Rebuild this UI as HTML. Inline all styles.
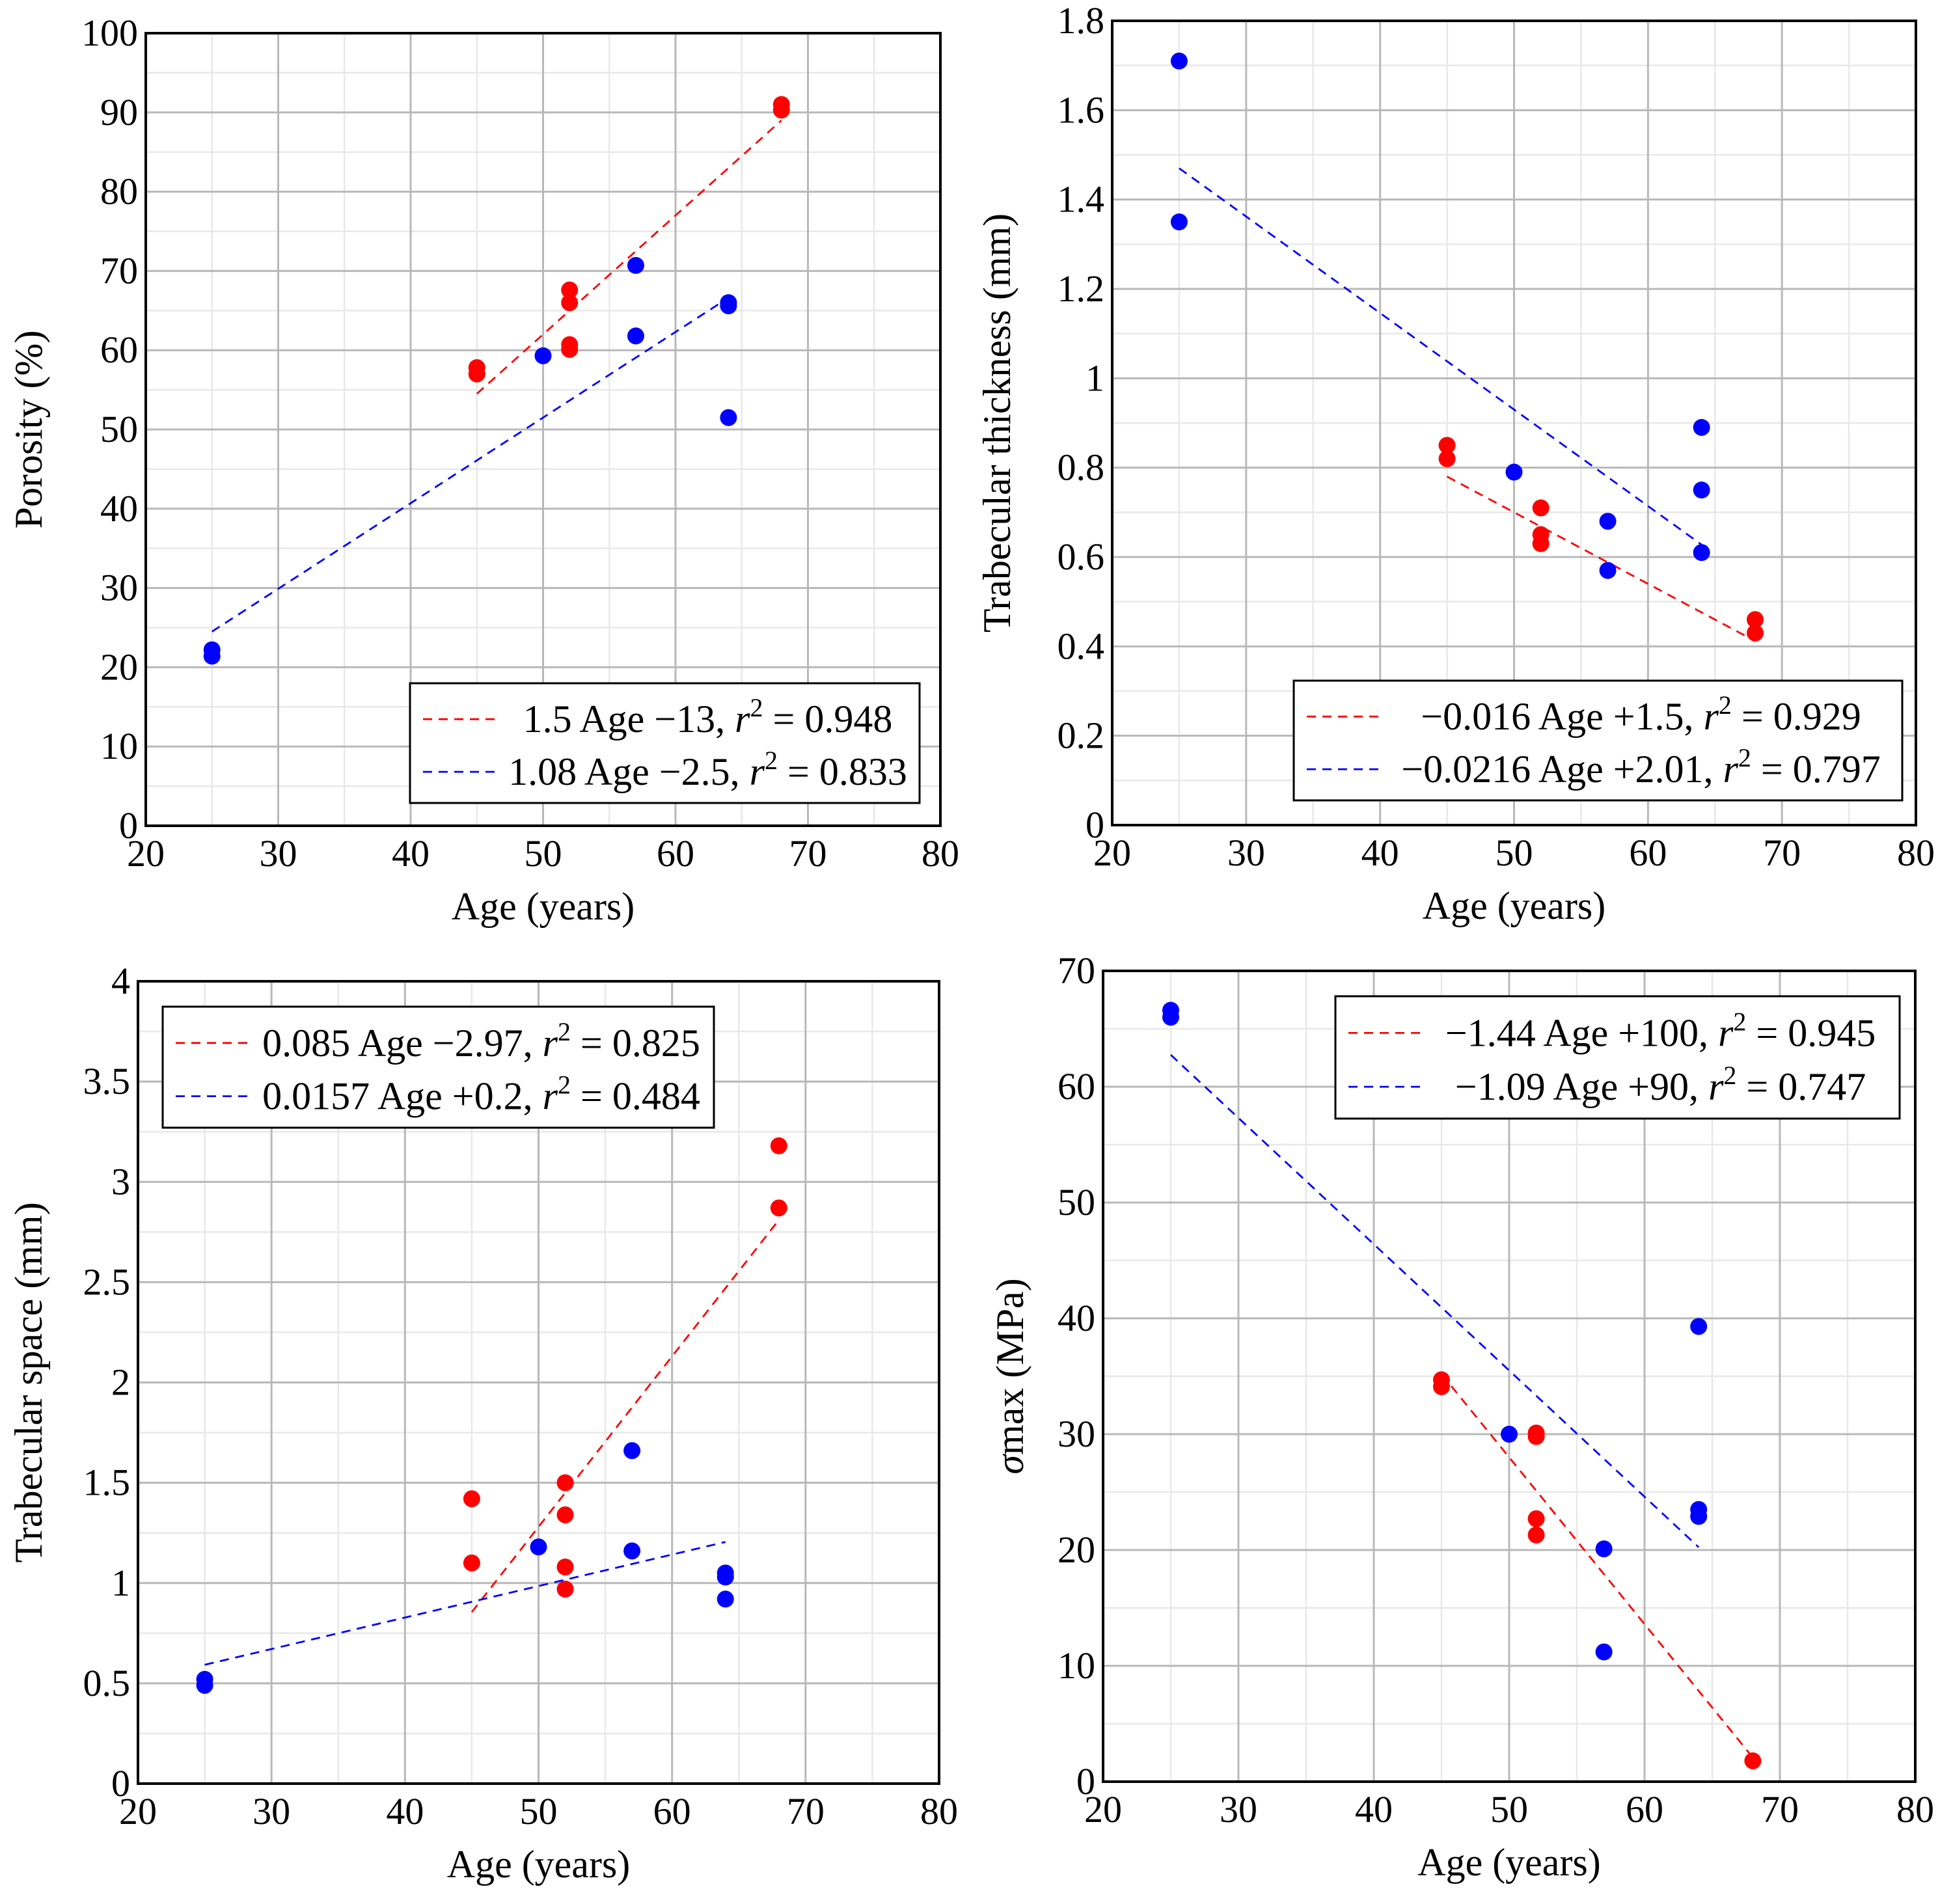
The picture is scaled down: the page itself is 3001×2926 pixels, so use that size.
<!DOCTYPE html>
<html><head><meta charset="utf-8"><style>
html,body{margin:0;padding:0;background:#fff}
svg{display:block}
text{font-family:"Liberation Serif",serif;fill:#000}
</style></head><body>
<svg id="chart" width="3001" height="2926" viewBox="0 0 3001 2926" xmlns="http://www.w3.org/2000/svg"></svg>
<script>
// ---------- data ----------
const xTicks = [20,30,40,50,60,70,80];
// Panel 1: Porosity
const p1RedX = [45,45,52,52,52,52,68,68];
const p1RedY = [57,57.8,67.6,66,60.7,60.1,91,90.3];
const p1BlueX = [25,25,50,57,57,64,64,64];
const p1BlueY = [22.2,21.4,59.3,70.7,61.8,66,65.6,51.5];
const p1RedFit = [1.5,-13,45,68];
const p1BlueFit = [1.08,-2.5,25,64];
const p1YTicks = [0,10,20,30,40,50,60,70,80,90,100];
const p1Legend = ["1.5 Age \u221213, ", "0.948", "1.08 Age \u22122.5, ", "0.833"];
// Panel 2: Trabecular thickness
const p2RedX = [45,45,52,52,52,68,68];
const p2RedY = [0.85,0.82,0.71,0.65,0.63,0.46,0.43];
const p2BlueX = [25,25,50,57,57,64,64,64];
const p2BlueY = [1.71,1.35,0.79,0.68,0.57,0.89,0.75,0.61];
const p2RedFit = [-0.016,1.5,45,68];
const p2BlueFit = [-0.0216,2.01,25,64];
const p2YTicks = [0,0.2,0.4,0.6,0.8,1,1.2,1.4,1.6,1.8];
const p2Legend = ["\u22120.016 Age +1.5, ", "0.929", "\u22120.0216 Age +2.01, ", "0.797"];
// Panel 3: Trabecular space
const p3RedX = [45,45,52,52,52,52,68,68];
const p3RedY = [1.42,1.10,1.50,1.34,1.08,0.97,3.18,2.87];
const p3BlueX = [25,25,50,57,57,64,64,64];
const p3BlueY = [0.52,0.49,1.18,1.66,1.16,1.05,1.03,0.92];
const p3RedFit = [0.085,-2.97,45,68];
const p3BlueFit = [0.0157,0.2,25,64];
const p3YTicks = [0,0.5,1,1.5,2,2.5,3,3.5,4];
const p3Legend = ["0.085 Age \u22122.97, ", "0.825", "0.0157 Age +0.2, ", "0.484"];
// Panel 4: sigma max
const p4RedX = [45,45,52,52,52,52,68];
const p4RedY = [34.7,34.1,30.1,29.8,22.7,21.3,1.8];
const p4BlueX = [25,25,50,57,57,64,64,64];
const p4BlueY = [66.6,66.0,30.0,20.1,11.2,39.3,23.5,22.9];
const p4RedFit = [-1.44,100,45,68];
const p4BlueFit = [-1.09,90,25,64];
const p4YTicks = [0,10,20,30,40,50,60,70];
const p4Legend = ["\u22121.44 Age +100, ", "0.945", "\u22121.09 Age +90, ", "0.747"];

const NS = "http://www.w3.org/2000/svg";
const svg = document.getElementById('chart');
function mk(tag, attrs, parent){
  const e = document.createElementNS(NS, tag);
  for (const k in attrs) e.setAttribute(k, attrs[k]);
  (parent||svg).appendChild(e);
  return e;
}

function panel(cfg){
  const g = mk('g', {});
  
  
  const L=cfg.l, R=cfg.r, T=cfg.t, B=cfg.b;
  const yMax = cfg.yTicks[cfg.yTicks.length-1];
  const sx = v => L + (v-20)/60*(R-L);
  const sy = v => B - v/yMax*(B-T);
  for (let v=25; v<80; v+=10) mk('line',{x1:sx(v),x2:sx(v),y1:T,y2:B,stroke:'#e8e8e8','stroke-width':2.5},g);
  for (let i=0;i<cfg.yTicks.length-1;i++){ const v=(cfg.yTicks[i]+cfg.yTicks[i+1])/2;
    mk('line',{x1:L,x2:R,y1:sy(v),y2:sy(v),stroke:'#e8e8e8','stroke-width':2.5},g);}
  xTicks.forEach(v=>{ if(v>20&&v<80) mk('line',{x1:sx(v),x2:sx(v),y1:T,y2:B,stroke:'#b8b8b8','stroke-width':3},g);});
  cfg.yTicks.forEach(v=>{ if(v>0&&v<yMax) mk('line',{x1:L,x2:R,y1:sy(v),y2:sy(v),stroke:'#b8b8b8','stroke-width':3},g);});
  xTicks.forEach(v=>{ const t=mk('text',{x:sx(v),y:B+62,'text-anchor':'middle','font-size':58},g); t.textContent=v;
     });
  cfg.yTicks.forEach(v=>{ const t=mk('text',{x:L-12,y:sy(v)+19,'text-anchor':'end','font-size':58},g); t.textContent=v;
     });
  const xt=mk('text',{x:(L+R)/2,y:B+144,'text-anchor':'middle','font-size':60},g); xt.textContent='Age (years)';
   
  const yt=mk('text',{x:0,y:0,'text-anchor':'middle','font-size':60,transform:`translate(${cfg.ytx},${(T+B)/2}) rotate(-90)`},g);
  yt.innerHTML = cfg.ylabel;
   
  [[cfg.redFit,'#ff0000','red-fit-line'],[cfg.blueFit,'#0000ff','blue-fit-line']].forEach(([f,c,n])=>{
    const ln=mk('line',{x1:sx(f[2]),y1:sy(f[0]*f[2]+f[1]),x2:sx(f[3]),y2:sy(f[0]*f[3]+f[1]),stroke:c,'stroke-width':2.8,'stroke-dasharray':'14 10'},g);
     
  });
  cfg.redX.forEach((x,i)=>{ const c=mk('circle',{cx:sx(x),cy:sy(cfg.redY[i]),r:13,fill:'#ff0000'},g);
     });
  cfg.blueX.forEach((x,i)=>{ const c=mk('circle',{cx:sx(x),cy:sy(cfg.blueY[i]),r:13,fill:'#0000ff'},g);
     });
  mk('rect',{x:L,y:T,width:R-L,height:B-T,fill:'none',stroke:'#000','stroke-width':4},g);
  const lg = mk('g',{},g);
   
  const [bx,by,bw,bh]=cfg.leg;
  mk('rect',{x:bx,y:by,width:bw,height:bh,fill:'#fff',stroke:'#000','stroke-width':3},lg);
  [[0,'#ff0000'],[1,'#0000ff']].forEach(([i,c])=>{
    const yy = by + bh*(i===0?0.30:0.74);
    mk('line',{x1:bx+20,x2:bx+135,y1:yy,y2:yy,stroke:c,'stroke-width':2.8,'stroke-dasharray':'14 10'},lg);
    const t=mk('text',{x:(bx+140+bx+bw-8)/2,y:yy+20,'text-anchor':'middle','font-size':60},lg);
    t.innerHTML = cfg.legend[i*2] + '<tspan font-style="italic">r</tspan><tspan font-size="40" dy="-24">2</tspan><tspan dy="24"> = </tspan>' + cfg.legend[i*2+1];
     
  });
}

panel({name:'porosity-panel',l:224,r:1445,t:51,b:1269,yTicks:p1YTicks,redX:p1RedX,redY:p1RedY,blueX:p1BlueX,blueY:p1BlueY,
  redFit:p1RedFit,blueFit:p1BlueFit,legend:p1Legend,leg:[630,1050,783,184],ytx:64,ylabel:'Porosity (%)'});
panel({name:'thickness-panel',l:1709,r:2944,t:32,b:1268,yTicks:p2YTicks,redX:p2RedX,redY:p2RedY,blueX:p2BlueX,blueY:p2BlueY,
  redFit:p2RedFit,blueFit:p2BlueFit,legend:p2Legend,leg:[1988,1046,935,184],ytx:1552,ylabel:'Trabecular thickness (mm)'});
panel({name:'spacing-panel',l:212,r:1443,t:1508,b:2741,yTicks:p3YTicks,redX:p3RedX,redY:p3RedY,blueX:p3BlueX,blueY:p3BlueY,
  redFit:p3RedFit,blueFit:p3BlueFit,legend:p3Legend,leg:[250,1547,847,186],ytx:64,ylabel:'Trabecular space (mm)'});
panel({name:'sigma-panel',l:1695,r:2943,t:1492,b:2738,yTicks:p4YTicks,redX:p4RedX,redY:p4RedY,blueX:p4BlueX,blueY:p4BlueY,
  redFit:p4RedFit,blueFit:p4BlueFit,legend:p4Legend,leg:[2052,1531,867,188],ytx:1572,ylabel:'<tspan font-style="italic">σ</tspan>max (MPa)'});
</script>
</body></html>
